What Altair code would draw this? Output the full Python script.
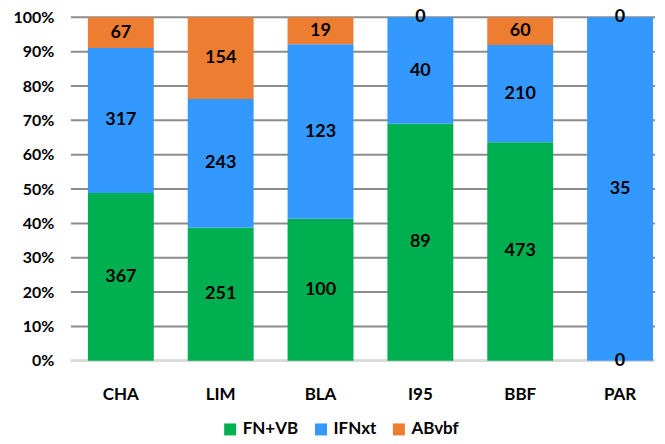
import altair as alt
import pandas as pd

categories = ["CHA", "LIM", "BLA", "I95", "BBF", "PAR"]
series = ["FN+VB", "IFNxt", "ABvbf"]
fn_vb = [367, 251, 100, 89, 473, 0]
ifnxt = [317, 243, 123, 40, 210, 35]
abvbf = [67, 154, 19, 0, 60, 0]
colors = ["#00B050", "#3399FF", "#ED7D31"]
pct_ticks = [0, 0.1, 0.2, 0.3, 0.4, 0.5, 0.6, 0.7, 0.8, 0.9, 1.0]

rows = []
for i, c in enumerate(categories):
    for j, (s, vals) in enumerate(zip(series, [fn_vb, ifnxt, abvbf])):
        rows.append({"cat": c, "series": s, "value": vals[i], "order": j})
df = pd.DataFrame(rows)
grid_df = pd.DataFrame({"tick": pct_ticks})

FONT = "Lato"

base = alt.Chart(df).transform_joinaggregate(
    total="sum(value)", groupby=["cat"]
).transform_window(
    cum="sum(value)", groupby=["cat"], sort=[alt.SortField("order")], frame=[None, 0]
).transform_calculate(
    lo="(datum.cum - datum.value) / datum.total",
    hi="datum.cum / datum.total",
    mid="(datum.cum - datum.value / 2) / datum.total",
)

xscale = alt.Scale(paddingInner=0.34, paddingOuter=0.095, align=0.895)
xaxis = alt.Axis(labelAngle=0, labelFont=FONT, labelFontSize=17, labelFontWeight="bold",
                 labelColor="#000000", labelPadding=26, ticks=False, domain=False)

yscale = alt.Scale(domain=[0, 1], nice=False)
yaxis = alt.Axis(format=".0%", values=pct_ticks, labelOverlap=False,
                 labelFont=FONT, labelFontSize=16, labelFontWeight="bold",
                 labelColor="#000000", labelPadding=17, ticks=False, domain=False,
                 grid=False)

grid = alt.Chart(grid_df).mark_rule(color="#8C8C8C", strokeWidth=2).encode(
    y=alt.Y("tick:Q", scale=yscale, title=None, axis=yaxis),
)

baseline = alt.Chart(grid_df).transform_filter("datum.tick == 0").mark_rule(
    color="#D9D9D9", strokeWidth=2.5
).encode(
    y=alt.Y("tick:Q", scale=yscale, title=None, axis=yaxis),
)

bars = base.mark_bar().encode(
    x=alt.X("cat:N", sort=categories, title=None, scale=xscale, axis=xaxis),
    y=alt.Y("lo:Q", scale=yscale, title=None, axis=yaxis),
    y2="hi:Q",
    color=alt.Color("series:N", scale=alt.Scale(domain=series, range=colors),
                    legend=alt.Legend(title=None, orient="none", direction="horizontal",
                                      legendX=151, legendY=404,
                                      symbolType="square", symbolSize=144, labelFont=FONT,
                                      labelFontSize=17, labelFontWeight="bold", labelColor="#000000",
                                      columnPadding=14, labelOffset=4, symbolStrokeWidth=0)),
)

labels = base.mark_text(font=FONT, fontSize=18, fontWeight="bold", color="#000000").encode(
    x=alt.X("cat:N", sort=categories, title=None, scale=xscale, axis=xaxis),
    y=alt.Y("mid:Q", scale=yscale, title=None, axis=yaxis),
    text="value:Q",
)

chart = alt.layer(grid, baseline, bars, labels).properties(
    width=585, height=344,
    padding={"left": 5, "top": 0, "right": 0, "bottom": 0},
).configure_view(stroke=None)

chart.save("out.html", embed_options={"renderer": "svg", "actions": False})
